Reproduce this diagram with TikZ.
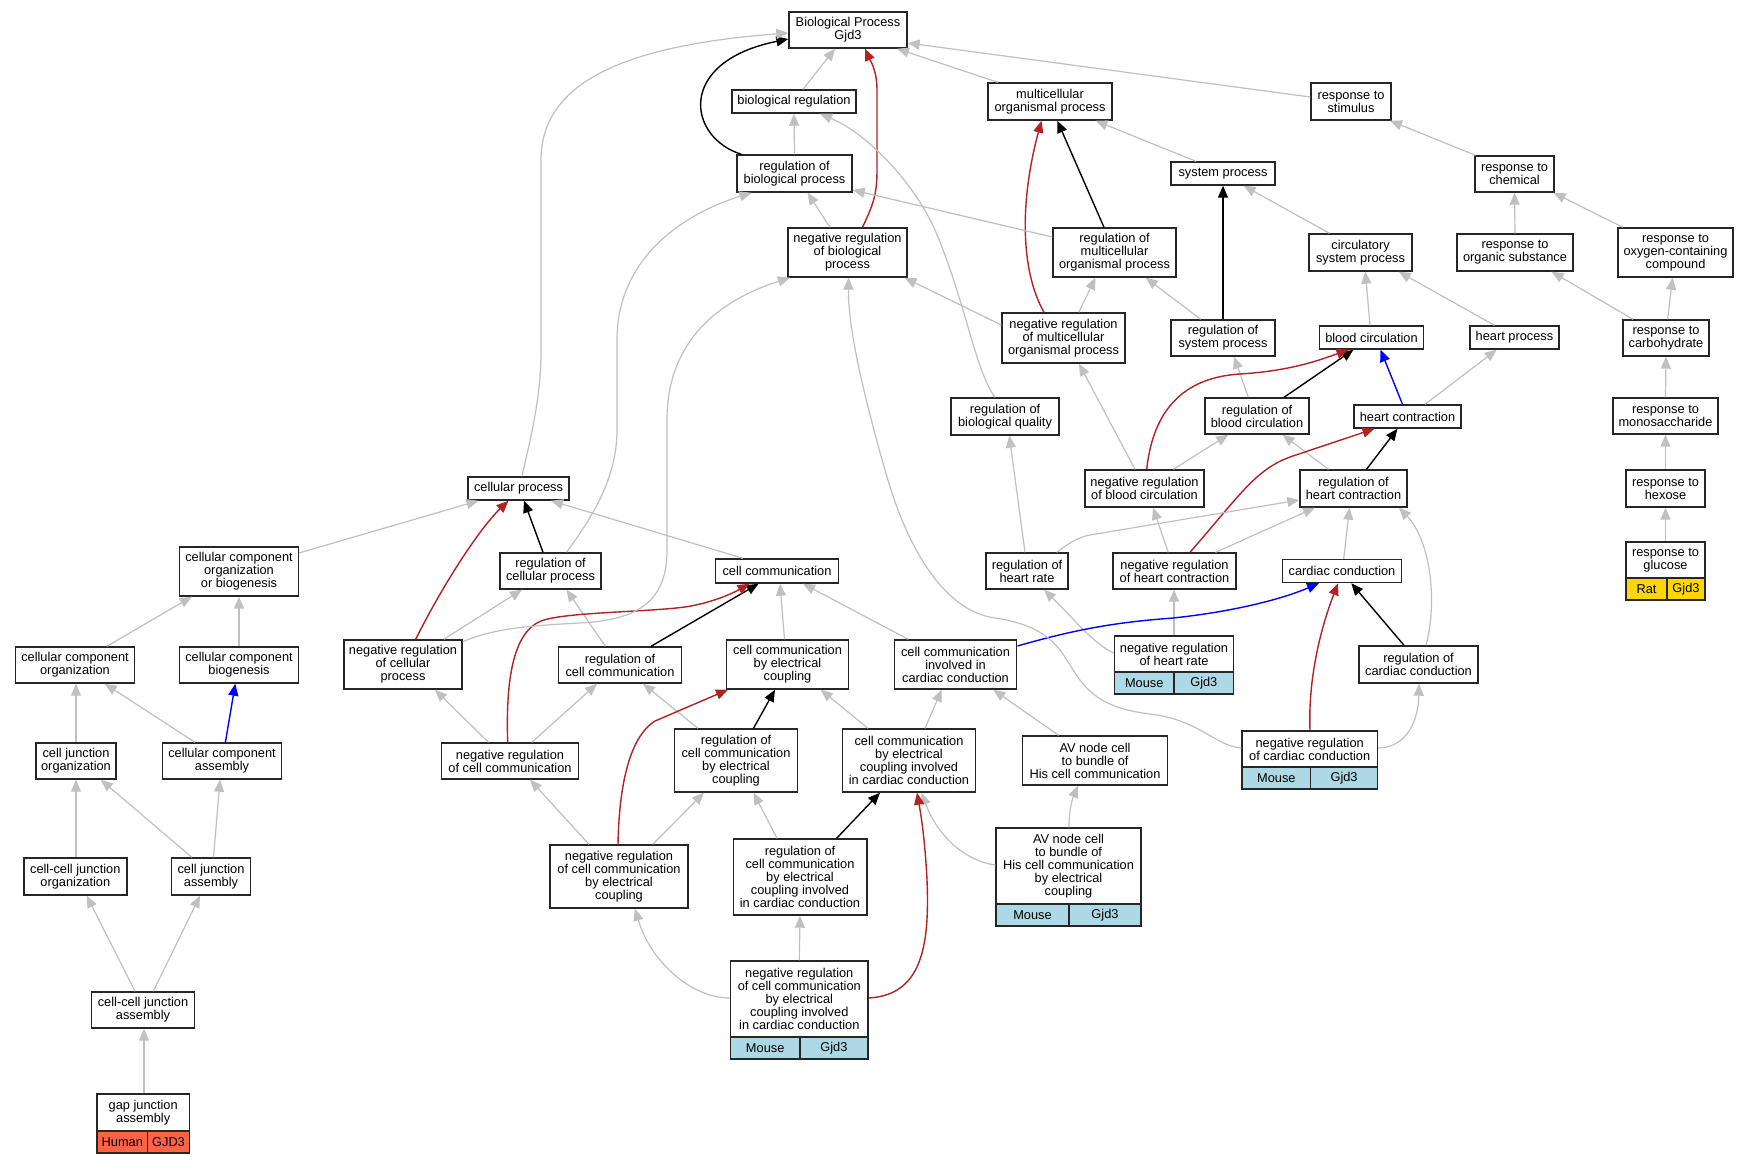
\documentclass[tikz,border=0pt]{standalone}
\usepackage{fontspec}
\setmainfont{Liberation Sans}
\usetikzlibrary{arrows.meta,calc}
\definecolor{edgegray}{HTML}{C0C0C0}
\definecolor{edgered}{HTML}{B22222}
\definecolor{edgeblue}{HTML}{0000FF}
\definecolor{mouseblue}{HTML}{ADD8E6}
\definecolor{humanred}{HTML}{FF6347}
\definecolor{ratgold}{HTML}{FFD700}
\newcommand{\gofont}{\fontsize{12.8}{13}\selectfont}
\newcommand{\gobox}[6]{\node[gobx, minimum width=#4pt, minimum height=#5pt] (#1) at (#2,#3) {#6};}
\newcommand{\gocell}[7]{\node[gobx, fill=#6, minimum width=#4pt, minimum height=#5pt] (#1) at (#2,#3) {#7};}
\tikzset{
  gobx/.style={draw=black!85, line width=1.4pt, fill=white, inner sep=0pt, align=center, font=\gofont},
  tipst/.style={-{Triangle[length=12pt,width=10pt]}},
  ge/.style={draw=edgegray, line width=1.2pt, tipst},
  be/.style={draw=black, line width=1.4pt, tipst},
  re/.style={draw=edgered, line width=1.4pt, tipst},
  ble/.style={draw=edgeblue, line width=1.4pt, tipst},
}
\begin{document}
\begin{tikzpicture}[x=1pt,y=-1pt]
\useasboundingbox (0,0) rectangle (1749,1163);
\fill[white] (0,0) rectangle (1749,1163);
% ---------- nodes ----------
\gobox{bp}{848}{30}{118}{36}{Biological Process\\Gjd3}
\gobox{breg}{794}{101.5}{124}{23}{biological regulation}
\gobox{rbp}{794.5}{173.5}{115}{37}{regulation of\\biological process}
\gobox{nrbp}{847.5}{252.5}{119}{49}{negative regulation\\of biological\\process}
\gobox{mop}{1050}{101.5}{124}{37}{multicellular\\organismal process}
\gobox{rstim}{1351}{101.5}{80}{37}{response to\\stimulus}
\gobox{sysp}{1223}{173.5}{104}{23}{system process}
\gobox{rchem}{1514.5}{174}{79}{36}{response to\\chemical}
\gobox{rmop}{1114.5}{252.5}{123}{49}{regulation of\\multicellular\\organismal process}
\gobox{csp}{1360.5}{252.5}{103}{37}{circulatory\\system process}
\gobox{rorg}{1515}{252.5}{116}{37}{response to\\organic substance}
\gobox{roxy}{1675.5}{252.5}{115}{49}{response to\\oxygen-containing\\compound}
\gobox{nrmop}{1063.5}{338}{123}{50}{negative regulation\\of multicellular\\organismal process}
\gobox{rsp}{1223}{338}{104}{36}{regulation of\\system process}
\gobox{bc}{1371.5}{337.5}{104}{23}{blood circulation}
\gobox{hp}{1514.5}{337.5}{89}{23}{heart process}
\gobox{rcarb}{1666}{338}{86}{36}{response to\\carbohydrate}
\gobox{rbc}{1257}{416}{104}{36}{regulation of\\blood circulation}
\gobox{hc}{1407.5}{416.5}{107}{23}{heart contraction}
\gobox{rmono}{1665.5}{416}{105}{36}{response to\\monosaccharide}
\gobox{rbq}{1005}{416.5}{108}{37}{regulation of\\biological quality}
\gobox{nrbc}{1144.5}{488.5}{119}{37}{negative regulation\\of blood circulation}
\gobox{rhc}{1353.5}{488.5}{107}{37}{regulation of\\heart contraction}
\gobox{rhex}{1665.5}{488.5}{79}{37}{response to\\hexose}
\gobox{cp}{518.5}{488.5}{101}{23}{cellular process}
\gobox{ccoob}{239}{571.5}{118.5}{49}{cellular component\\organization\\or biogenesis}
\gobox{rcp}{550.5}{571}{101}{36}{regulation of\\cellular process}
\gobox{cc}{777}{571}{122.5}{24}{cell communication}
\gobox{rhr}{1027}{571}{82}{36}{regulation of\\heart rate}
\gobox{nrhc}{1174.5}{571}{123}{36}{negative regulation\\of heart contraction}
\gobox{cardc}{1342}{571}{119}{23}{cardiac conduction}
\gobox{rgluc}{1665.5}{560}{79}{36}{response to\\glucose}
\gocell{rglucA}{1646.5}{589}{41}{22}{ratgold}{Rat}
\gocell{rglucB}{1686}{589}{38}{22}{ratgold}{Gjd3}
\gobox{cco}{75}{665}{118.5}{36}{cellular component\\organization}
\gobox{ccb}{239}{665}{118.5}{36}{cellular component\\biogenesis}
\gobox{nrcp}{403}{664.5}{118}{49}{negative regulation\\of cellular\\process}
\gobox{rcc}{620}{665}{122.5}{36}{regulation of\\cell communication}
\gobox{cceb}{787.5}{664.5}{122.5}{49}{cell communication\\by electrical\\coupling}
\gobox{ccicc}{955.5}{664.5}{122.5}{49}{cell communication\\involved in\\cardiac conduction}
\gobox{nrhr}{1174}{654}{119}{36}{negative regulation\\of heart rate}
\gocell{nrhrA}{1144.2}{683}{59.6}{22}{mouseblue}{Mouse}
\gocell{nrhrB}{1203.8}{683}{59.6}{22}{mouseblue}{Gjd3}
\gobox{rcardc}{1418.5}{664.5}{119}{37}{regulation of\\cardiac conduction}
\gobox{cjo}{76}{761}{80}{36}{cell junction\\organization}
\gobox{cca}{222}{761}{118.5}{36}{cellular component\\assembly}
\gobox{nrcc}{510}{761}{137.5}{36}{negative regulation\\of cell communication}
\gobox{rcceb}{736}{760.5}{122.5}{63}{regulation of\\cell communication\\by electrical\\coupling}
\gobox{cceicc}{909}{760.5}{133.5}{63}{cell communication\\by electrical\\coupling involved\\in cardiac conduction}
\gobox{avcc}{1095}{760.5}{144.5}{49}{AV node cell\\to bundle of\\His cell communication}
\gobox{nrcardc}{1309.7}{749}{135.4}{36}{negative regulation\\of cardiac conduction}
\gocell{nrcardcA}{1276.35}{778}{68.7}{22}{mouseblue}{Mouse}
\gocell{nrcardcB}{1344.05}{778}{66.7}{22}{mouseblue}{Gjd3}
\gobox{ccjo}{75.3}{876.5}{103}{37}{cell-cell junction\\organization}
\gobox{cja}{211}{876.5}{79}{37}{cell junction\\assembly}
\gobox{nrcceb}{619}{876.5}{138}{63}{negative regulation\\of cell communication\\by electrical\\coupling}
\gobox{rcceicc}{800}{877}{133.6}{76}{regulation of\\cell communication\\by electrical\\coupling involved\\in cardiac conduction}
\gobox{avceb}{1068.5}{866}{145}{76}{AV node cell\\to bundle of\\His cell communication\\by electrical\\coupling}
\gocell{avcebA}{1032.5}{915}{73}{22}{mouseblue}{Mouse}
\gocell{avcebB}{1105}{915}{72}{22}{mouseblue}{Gjd3}
\gobox{ccja}{143}{1010}{103}{36}{cell-cell junction\\assembly}
\gobox{nrcceicc}{799.3}{999}{137.4}{76}{negative regulation\\of cell communication\\by electrical\\coupling involved\\in cardiac conduction}
\gocell{nrcceiccA}{765.2}{1048}{69.2}{22}{mouseblue}{Mouse}
\gocell{nrcceiccB}{833.9}{1048}{68.2}{22}{mouseblue}{Gjd3}
\gobox{gja}{143.2}{1112.5}{92.3}{37}{gap junction\\assembly}
\gocell{gjaA}{122.35}{1142}{50.7}{22}{humanred}{Human}
\gocell{gjaB}{168.5}{1142}{41.6}{22}{humanred}{GJD3}
% ---------- edges: top ----------
\draw[ge] ($(breg.north)+(9,0)$) -- ($(bp.south)+(-13,0)$);
\draw[be] ($(rbp.north)+(-53,0)$) .. controls (688,138) and (675,62) .. ($(bp.west)+(0,9)$);
\draw[ge] (rbp.north) -- (breg.south);
\draw[re] ($(nrbp.north)+(15,0)$) .. controls (873,205) and (877,195) .. (877,170) -- (877,90) .. controls (877,70) and (870,60) .. ($(bp.south)+(17,0)$);
\draw[ge] ($(nrbp.north)+(-17.5,0)$) -- ($(rbp.south)+(13,0)$);
\draw[ge] ($(mop.north)+(-52,0)$) -- ($(bp.south)+(49,0)$);
\draw[ge] ($(rstim.west)+(0,-4.5)$) -- ($(bp.east)+(0,13)$);
\draw[ge] ($(cp.north)+(3.5,0)$) .. controls (530,440) and (541,400) .. (541,350) -- (541,160) .. controls (541,80) and (630,45) .. ($(bp.west)+(0,3)$);
\draw[ge] ($(rbq.north)+(-10,0)$) .. controls (975,370) and (965,300) .. (935,230) .. controls (915,185) and (870,135) .. ($(breg.south)+(26,0)$);
\draw[ge] ($(sysp.north)+(-27,0)$) -- ($(mop.south)+(45.5,0)$);
\draw[be] ($(rmop.north)+(-10.5,0)$) -- ($(mop.south)+(7.3,0)$);
\draw[re] ($(nrmop.north)+(-19.5,0)$) .. controls (1020,270) and (1020,200) .. ($(mop.south)+(-8.5,0)$);
\draw[ge] ($(rmop.west)+(0,-15.5)$) -- ($(rbp.east)+(0,16.5)$);
\draw[ge] ($(nrmop.west)+(0,-13)$) -- ($(nrbp.south)+(57,0)$);
\draw[ge] ($(nrmop.north)+(15.3,0)$) -- ($(rmop.south)+(-19,0)$);
\draw[be] (rsp.north) -- (sysp.south);
\draw[ge] ($(rsp.north)+(-22.4,0)$) -- ($(rmop.south)+(31.2,0)$);
\draw[ge] ($(csp.north)+(-31,0)$) -- ($(sysp.south)+(20.6,0)$);
\draw[ge] ($(rchem.north)+(-39,0)$) -- ($(rstim.south)+(39,0)$);
\draw[ge] (rorg.north) -- (rchem.south);
\draw[ge] ($(roxy.north)+(-52.5,0)$) -- ($(rchem.south)+(39,0)$);
\draw[ge] ($(bc.north)+(-1.5,0)$) -- ($(csp.south)+(4.8,0)$);
\draw[ge] ($(hp.north)+(-20,0)$) -- ($(csp.south)+(38.2,0)$);
\draw[ge] ($(rcarb.north)+(-33,0)$) -- ($(rorg.south)+(36.6,0)$);
\draw[ge] ($(rcarb.north)+(1.6,0)$) -- ($(roxy.south)+(-3,0)$);
\draw[ge] ($(rbc.north)+(-8.7,0)$) -- ($(rsp.south)+(11,0)$);
\draw[be] ($(rbc.north)+(27,0)$) -- ($(bc.south)+(-18,0)$);
\draw[ble] ($(hc.north)+(-5,0)$) -- ($(bc.south)+(9,0)$);
\draw[ge] ($(hc.north)+(17.5,0)$) -- ($(hp.south)+(-17.8,0)$);
\draw[ge] (rmono.north) -- (rcarb.south);
\draw[re] ($(nrbc.north)+(2.2,0)$) .. controls (1152,420) and (1175,378) .. (1240,374) .. controls (1290,371) and (1320,360) .. ($(bc.south)+(-23,0)$);
\draw[ge] ($(nrbc.north)+(28.8,0)$) -- ($(rbc.south)+(-28.7,0)$);
\draw[ge] ($(nrbc.north)+(-9.5,0)$) -- ($(nrmop.south)+(15.5,0)$);
\draw[be] ($(rhc.north)+(13,0)$) -- ($(hc.south)+(-10,0)$);
\draw[ge] ($(rhc.north)+(-25,0)$) -- ($(rbc.south)+(25.5,0)$);
\draw[ge] (rhex.north) -- (rmono.south);
\draw[re] ($(nrhc.north)+(15.5,0)$) .. controls (1240,495) and (1255,470) .. (1290,457) -- ($(hc.south)+(-33,0)$);
\draw[ge] ($(nrhc.north)+(-6.2,0)$) -- ($(nrbc.south)+(8.5,0)$);
\draw[ge] ($(nrhc.north)+(41,0)$) -- ($(rhc.south)+(-38.5,0)$);
\draw[ge] ($(rhr.north)+(29.7,0)$) .. controls (1068,544) and (1078,537) .. (1090,535) -- ($(rhc.west)+(0,11.5)$);
\draw[ge] ($(rhr.north)+(-2,0)$) -- ($(rbq.south)+(4.3,0)$);
\draw[ge] ($(cardc.north)+(1.7,0)$) -- ($(rhc.south)+(-4,0)$);
\draw[ge] ($(rcardc.north)+(7.5,0)$) .. controls (1438,600) and (1430,540) .. ($(rhc.south)+(45.5,0)$);
\draw[ge] (rgluc.north) -- (rhex.south);
\draw[ge] (nrhr.north) -- ($(nrhc.south)+(-0.5,0)$);
\draw[ge] ($(nrhr.west)+(0,-1)$) .. controls (1095,645) and (1075,620) .. ($(rhr.south)+(17,0)$);
\draw[ble] ($(ccicc.east)+(0,-18.5)$) .. controls (1080,628) and (1120,622) .. (1173,618) .. controls (1230,612) and (1280,600) .. ($(cardc.south)+(-23,0)$);
\draw[be] ($(rcardc.north)+(-14.5,0)$) -- ($(cardc.south)+(9.3,0)$);
\draw[re] ($(nrcardc.north)+(0.3,0)$) .. controls (1308,680) and (1320,630) .. ($(cardc.south)+(-4,0)$);
\draw[ge] ($(nrcardc.east)+(0,-1)$) .. controls (1400,748) and (1418,730) .. ($(rcardc.south)+(0.5,0)$);
\draw[ge] ($(nrcardc.west)+(0,-1)$) .. controls (1215,746) and (1200,720) .. (1150,714)
  .. controls (1100,708) and (1085,690) .. (1070,665)
  .. controls (1055,640) and (1040,625) .. (995,618)
  .. controls (950,612) and (910,560) .. (885,470)
  .. controls (865,400) and (848,330) .. ($(nrbp.south)+(1,0)$);
% ---------- edges: middle ----------
\draw[ge] ($(avcc.north)+(-36.4,0)$) -- ($(ccicc.south)+(37.8,0)$);
\draw[ge] ($(cceicc.north)+(16,0)$) -- ($(ccicc.south)+(-13.8,0)$);
\draw[ge] ($(ccicc.north)+(-47.2,0)$) -- ($(cc.south)+(26,0)$);
\draw[ge] ($(cceicc.north)+(-41,0)$) -- ($(cceb.south)+(33.2,0)$);
\draw[ge] ($(avceb.north)+(0.5,0)$) .. controls (1069,810) and (1072,800) .. ($(avcc.south)+(-17.2,0)$);
\draw[ge] ($(avceb.west)+(0,-1)$) .. controls (960,860) and (935,830) .. ($(cceicc.south)+(12.6,0)$);
\draw[be] ($(rcceb.north)+(17.5,0)$) -- ($(cceb.south)+(-12.5,0)$);
\draw[ge] ($(rcceb.north)+(-38,0)$) -- ($(rcc.south)+(23,0)$);
\draw[re] ($(nrcceb.north)+(-1,0)$) .. controls (619,790) and (628,738) .. (655,721) -- ($(cceb.south)+(-59.5,0)$);
\draw[ge] ($(nrcceb.north)+(-30,0)$) -- ($(nrcc.south)+(20,0)$);
\draw[ge] ($(nrcceb.north)+(33.7,0)$) -- ($(rcceb.south)+(-32,0)$);
\draw[be] ($(rcceicc.north)+(36.6,0)$) -- ($(cceicc.south)+(-29,0)$);
\draw[ge] ($(rcceicc.north)+(-23,0)$) -- ($(rcceb.south)+(17.5,0)$);
\draw[ge] (nrcceicc.north) -- (rcceicc.south);
\draw[ge] ($(nrcceicc.west)+(0,-1)$) .. controls (690,998) and (650,960) .. ($(nrcceb.south)+(16,0)$);
\draw[re] ($(nrcceicc.east)+(0,-1)$) .. controls (920,995) and (930,950) .. (927,880) .. controls (925,840) and (921,815) .. ($(cceicc.south)+(8,0)$);
\draw[be] ($(rcc.north)+(31,0)$) -- ($(cc.south)+(-18.4,0)$);
\draw[ge] ($(rcc.north)+(-14.6,0)$) -- ($(rcp.south)+(16,0)$);
\draw[re] ($(nrcc.north)+(-2.3,0)$) .. controls (506,690) and (510,630) .. (544,620) .. controls (570,612) and (650,612) .. (687,606.7) .. controls (715,602) and (735,592) .. ($(cc.south)+(-27.4,0)$);
\draw[ge] ($(nrcc.north)+(-21.5,0)$) -- ($(nrcp.south)+(32,0)$);
\draw[ge] ($(nrcc.north)+(21.8,0)$) -- ($(rcc.south)+(-23,0)$);
\draw[ge] ($(cceb.north)+(-3,0)$) -- ($(cc.south)+(3,0)$);
\draw[ge] ($(cc.north)+(-34,0)$) -- ($(cp.south)+(32.5,0)$);
\draw[be] ($(rcp.north)+(-7.5,0)$) -- ($(cp.south)+(5.5,0)$);
\draw[re] ($(nrcp.north)+(12.7,0)$) .. controls (440,590) and (478,530) .. ($(cp.south)+(-10,0)$);
\draw[ge] ($(nrcp.north)+(40.8,0)$) -- ($(rcp.south)+(-28.5,0)$);
\draw[ge] ($(nrcp.east)+(0,-22.8)$) .. controls (490,630) and (520,626) .. (580,623) .. controls (640,620) and (667,600) .. (667,550) -- (667,420) .. controls (667,340) and (720,300) .. ($(nrbp.south)+(-57.5,0)$);
\draw[ge] ($(rcp.north)+(16,0)$) .. controls (590,520) and (617,480) .. (617,430) -- (617,340) .. controls (617,260) and (680,215) .. ($(rbp.south)+(-43,0)$);
% ---------- edges: left ----------
\draw[ge] ($(ccoob.east)+(0,-18.5)$) -- ($(cp.south)+(-40,0)$);
\draw[ge] ($(cco.north)+(31.8,0)$) -- ($(ccoob.south)+(-47.2,0)$);
\draw[ge] (ccb.north) -- (ccoob.south);
\draw[ble] ($(cca.north)+(3.4,0)$) -- ($(ccb.south)+(-3.7,0)$);
\draw[ge] ($(cca.north)+(-27,0)$) -- ($(cco.south)+(29.8,0)$);
\draw[ge] (cjo.north) -- ($(cco.south)+(1,0)$);
\draw[ge] ($(ccjo.north)+(0.7,0)$) -- (cjo.south);
\draw[ge] ($(cja.north)+(-19.2,0)$) -- ($(cjo.south)+(24.8,0)$);
\draw[ge] ($(cja.north)+(2.5,0)$) -- ($(cca.south)+(-2,0)$);
\draw[ge] ($(ccja.north)+(-8,0)$) -- ($(ccjo.south)+(11.4,0)$);
\draw[ge] ($(ccja.north)+(10.3,0)$) -- ($(cja.south)+(-11,0)$);
\draw[ge] ($(gja.north)+(0.8,0)$) -- ($(ccja.south)+(1,0)$);
\end{tikzpicture}
\end{document}
